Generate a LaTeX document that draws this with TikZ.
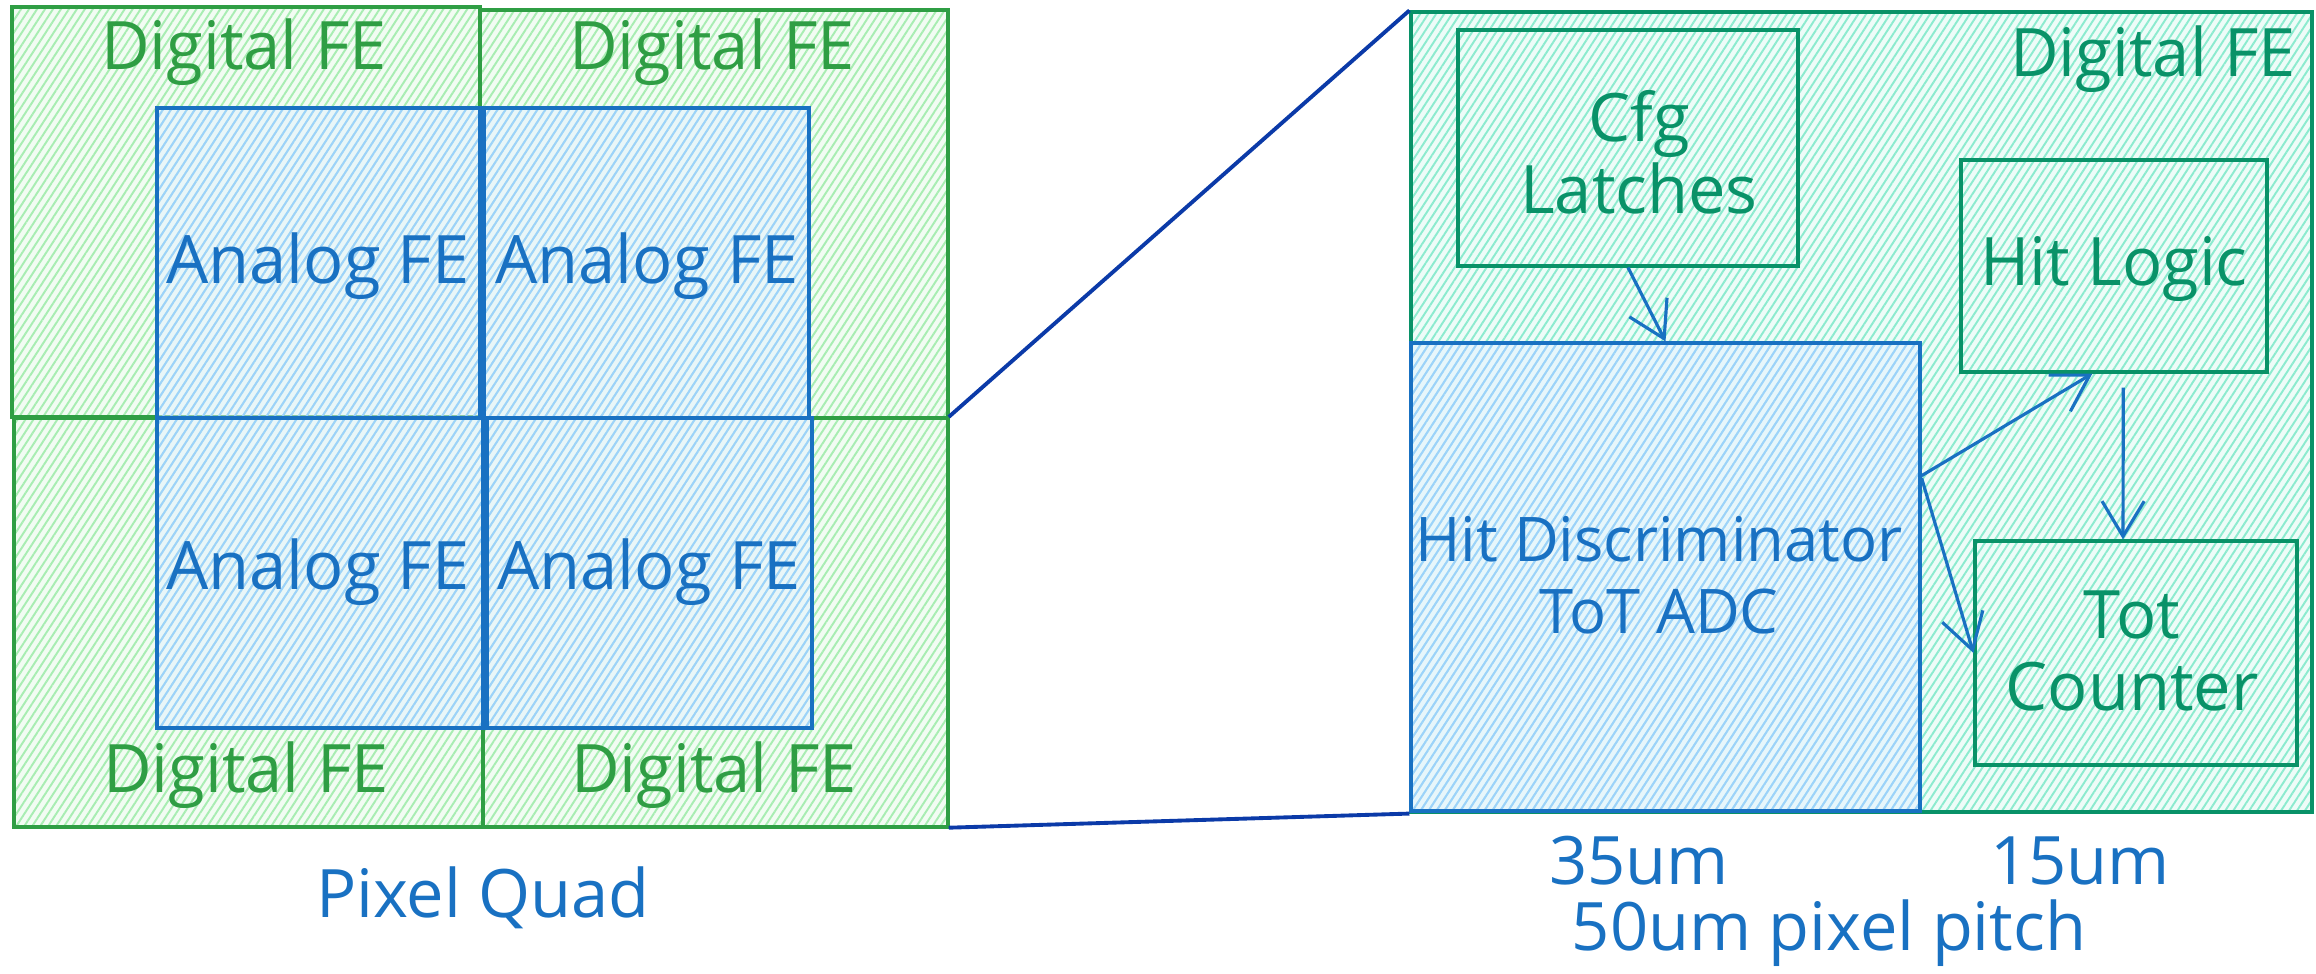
\documentclass[tikz,border=0pt]{standalone}
\usepackage{fontspec}
\setmainfont{Open Sans}
\usetikzlibrary{patterns.meta,fit,calc,arrows.meta}

\definecolor{dgreen}{HTML}{2F9E44}
\definecolor{dteal}{HTML}{099268}
\definecolor{ablue}{HTML}{1971C2}
\definecolor{hgreen}{HTML}{A8EDB2}
\definecolor{hteal}{HTML}{8CEBCF}
\definecolor{hblue}{HTML}{9CD2FB}
\definecolor{zoomline}{HTML}{0B3AA8}

\tikzset{
  x=0.01cm, y=-0.01cm,
  hatch/.style={pattern={Lines[angle=57,distance=1.9pt,line width=0.55pt]}},
  greenbox/.style={draw=dgreen, line width=0.9pt, inner sep=0pt,
    preaction={fill=hgreen!15}, hatch, pattern color=hgreen},
  tealbox/.style={draw=dteal, line width=0.9pt, inner sep=0pt,
    preaction={fill=hteal!15}, hatch, pattern color=hteal},
  bluebox/.style={draw=ablue, line width=0.9pt, inner sep=0pt,
    preaction={fill=hblue!30, fill opacity=0.5}, hatch, pattern color=hblue},
  lbl/.style={font=\fontsize{19}{20.5}\selectfont, align=center, inner sep=0pt},
  glbl/.style={lbl, text=dgreen},
  tlbl/.style={lbl, text=dteal},
  blbl/.style={lbl, text=ablue},
  flow/.style={draw=ablue, line width=0.9pt, -{Straight Barb[length=10pt,width=12pt,line width=0.9pt]}},
  zoom/.style={draw=zoomline, line width=1.1pt},
}

\begin{document}
\begin{tikzpicture}
\useasboundingbox (0,0) rectangle (2316,974);

% ---- pixel quad: four digital regions with their analog cores ----
\node[greenbox, fit={(12,7) (480,417)}] (dtl) {};
\node[greenbox, fit={(480,10) (948,418)}] (dtr) {};
\node[greenbox, fit={(14,418) (483,827)}] (dbl) {};
\node[greenbox, fit={(483,418) (948,827)}] (dbr) {};
\node[inner sep=0pt, fit={(12,7) (948,827)}] (quad) {};

\node[bluebox, fit={(157,108) (480,418)}] (atl) {};
\node[bluebox, fit={(484,108) (809,418)}] (atr) {};
\node[bluebox, fit={(157,418) (483,728)}] (abl) {};
\node[bluebox, fit={(487,418) (812,728)}] (abr) {};

\node[glbl] (ldtl) at (244,52) {Digital FE};
\node[glbl] (ldtr) at (712,52) {Digital FE};
\node[glbl] (ldbl) at (246,775) {Digital FE};
\node[glbl] (ldbr) at (714,775) {Digital FE};

\node[blbl] (latl) at (318,266) {Analog FE};
\node[blbl] (latr) at (647,266) {Analog FE};
\node[blbl] (labl) at (318,572) {Analog FE};
\node[blbl] (labr) at (649,572) {Analog FE};

\node[blbl] (quadcap) at (483,898) {Pixel Quad};

% ---- single pixel, enlarged ----
\node[tealbox, fit={(1411,12) (2312,812)}] (dfe) {};
\node[tlbl] (ldfe) at (2153,59) {Digital FE};

\node[tealbox, fit={(1458,30) (1798,266)}] (cfg) {};
\node[tlbl] (lcfg) at (1639,152) {Cfg\\Latches};

\node[tealbox, fit={(1961,160) (2267,372)}] (hl) {};
\node[tlbl] (lhl) at (2114,269) {Hit Logic};

\node[bluebox, fit={(1411,343) (1920,811)}] (hd) {};
\node[blbl, font=\fontsize{17.5}{20.5}\selectfont] (lhd) at (1659,575) {Hit Discriminator\\ToT ADC};

\node[tealbox, fit={(1975,541) (2297,765)}] (tc) {};
\node[tlbl] (ltc) at (2132,651) {Tot\\Counter};

\node[blbl] (w35) at (1639,861) {35um};
\node[blbl] (w15) at (2080,861) {15um};
\node[blbl] (wpitch) at (1829,933) {50um pixel pitch};

% ---- zoom guides ----
\draw[zoom] (quad.east) -- (dfe.north west);
\draw[zoom] (quad.south east) -- (dfe.south west);

% ---- signal flow ----
\draw[flow] (cfg.south) -- (hd.north);
\draw[flow] ($(hd.north east)!0.285!(hd.south east)$) -- ($(hl.south west)!0.43!(hl.south east)$);
\draw[flow] ($(hd.north east)!0.29!(hd.south east)$) -- (tc.west);
\draw[flow, shorten <=4pt] ($(hl.south west)!0.53!(hl.south east)$) -- ($(tc.north west)!0.46!(tc.north east)$);
\end{tikzpicture}
\end{document}
